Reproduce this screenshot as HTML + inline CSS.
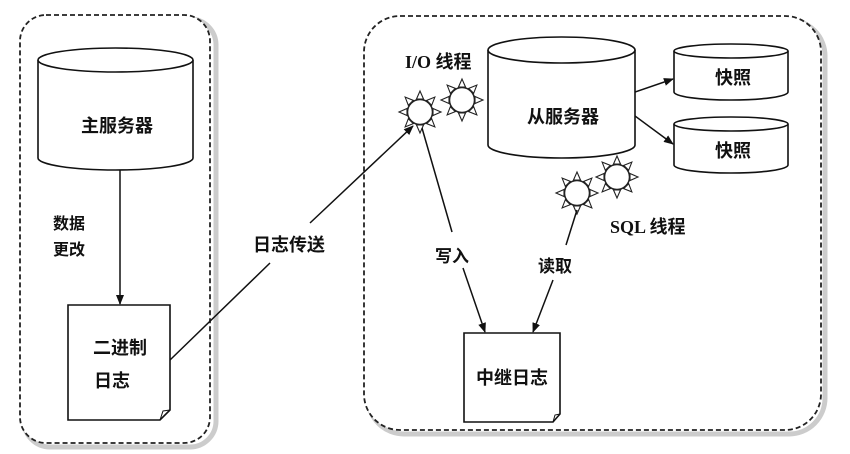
<!DOCTYPE html>
<html><head><meta charset="utf-8"><style>
body{margin:0;background:#fff;}
svg{display:block}
text{font-family:"Liberation Serif","Noto Sans CJK SC",sans-serif;font-weight:bold;fill:#111}
</style></head><body>
<svg width="850" height="454" viewBox="0 0 850 454" xmlns="http://www.w3.org/2000/svg">
<defs>
<marker id="ar" markerWidth="10" markerHeight="8" refX="9" refY="4" orient="auto" markerUnits="userSpaceOnUse">
<path d="M0,0 L10,4 L0,8 Z" fill="#111"/></marker>
<g id="gear">
<g fill="#fff" stroke="#222" stroke-width="1.1">
<path d="M-3.5,-13 L0,-21 L3.5,-13 Z"/><path d="M-3.5,-13 L0,-21 L3.5,-13 Z" transform="rotate(45)"/>
<path d="M-3.5,-13 L0,-21 L3.5,-13 Z" transform="rotate(90)"/><path d="M-3.5,-13 L0,-21 L3.5,-13 Z" transform="rotate(135)"/>
<path d="M-3.5,-13 L0,-21 L3.5,-13 Z" transform="rotate(180)"/><path d="M-3.5,-13 L0,-21 L3.5,-13 Z" transform="rotate(225)"/>
<path d="M-3.5,-13 L0,-21 L3.5,-13 Z" transform="rotate(270)"/><path d="M-3.5,-13 L0,-21 L3.5,-13 Z" transform="rotate(315)"/>
</g>
<circle r="12.5" fill="#fff" stroke="#222" stroke-width="1.5"/>
</g>
</defs>
<rect x="24" y="19" width="192" height="428" rx="26" fill="none" stroke="#ccc" stroke-width="5"/>
<rect x="368" y="20" width="457" height="414" rx="36" fill="none" stroke="#ccc" stroke-width="5"/>
<rect x="20" y="15" width="190" height="428" rx="26" fill="#fff" stroke="#222" stroke-width="1.8" stroke-dasharray="5,3"/>
<rect x="364" y="16" width="457" height="414" rx="36" fill="#fff" stroke="#222" stroke-width="1.8" stroke-dasharray="5,3"/>

<path d="M38,60 L38,158 A77.5,12 0 0 0 193,158 L193,60" fill="#fff" stroke="#111" stroke-width="1.6"/>
<ellipse cx="115.5" cy="60" rx="77.5" ry="12" fill="#fff" stroke="#111" stroke-width="1.6"/>
<text x="117" y="132" font-size="18" text-anchor="middle">主服务器</text>
<line x1="120" y1="170" x2="120" y2="304" stroke="#111" stroke-width="1.5" marker-end="url(#ar)"/>
<text x="53" y="229" font-size="16">数据</text>
<text x="53" y="255" font-size="16">更改</text>
<path d="M68,305 L170,305 L170,410 L160,420 L68,420 Z" fill="#fff" stroke="#111" stroke-width="1.6"/>
<path d="M170,410 L163,411 L160,420" fill="none" stroke="#111" stroke-width="1"/>
<text x="120" y="354" font-size="18" text-anchor="middle">二进制</text>
<text x="112" y="387" font-size="18" text-anchor="middle">日志</text>

<line x1="170" y1="360" x2="270" y2="263" stroke="#111" stroke-width="1.5"/>
<line x1="310" y1="223" x2="413" y2="126" stroke="#111" stroke-width="1.5" marker-end="url(#ar)"/>
<text x="289" y="251" font-size="18" text-anchor="middle">日志传送</text>

<path d="M488,50 L488,145 A73.5,13 0 0 0 635,145 L635,50" fill="#fff" stroke="#111" stroke-width="1.6"/>
<ellipse cx="561.5" cy="50" rx="73.5" ry="13" fill="#fff" stroke="#111" stroke-width="1.6"/>
<text x="563" y="123" font-size="18" text-anchor="middle">从服务器</text>

<path d="M674,51 L674,92 A57,8 0 0 0 788,92 L788,51" fill="#fff" stroke="#111" stroke-width="1.6"/>
<ellipse cx="731" cy="51" rx="57" ry="7" fill="#fff" stroke="#111" stroke-width="1.6"/>
<text x="733" y="84" font-size="18" text-anchor="middle">快照</text>
<path d="M674,124 L674,165 A57,8 0 0 0 788,165 L788,124" fill="#fff" stroke="#111" stroke-width="1.6"/>
<ellipse cx="731" cy="124" rx="57" ry="7" fill="#fff" stroke="#111" stroke-width="1.6"/>
<text x="733" y="157" font-size="18" text-anchor="middle">快照</text>
<line x1="635" y1="92" x2="673" y2="79" stroke="#111" stroke-width="1.5" marker-end="url(#ar)"/>
<line x1="635" y1="116" x2="673" y2="144" stroke="#111" stroke-width="1.5" marker-end="url(#ar)"/>

<use href="#gear" x="462" y="100"/>
<use href="#gear" x="420" y="112"/>
<use href="#gear" x="617" y="177"/>
<use href="#gear" x="577" y="193"/>
<text x="405" y="68" font-size="18">I/O 线程</text>
<text x="610" y="233" font-size="18">SQL 线程</text>

<line x1="422" y1="128" x2="452" y2="232" stroke="#111" stroke-width="1.5"/>
<line x1="463" y1="268" x2="485" y2="332" stroke="#111" stroke-width="1.5" marker-end="url(#ar)"/>
<text x="452" y="262" font-size="17" text-anchor="middle">写入</text>
<line x1="577" y1="210" x2="566" y2="245" stroke="#111" stroke-width="1.5"/>
<line x1="553" y1="280" x2="533" y2="332" stroke="#111" stroke-width="1.5" marker-end="url(#ar)"/>
<text x="555" y="272" font-size="17" text-anchor="middle">读取</text>
<path d="M464,333 L560,333 L560,414 L553,422 L464,422 Z" fill="#fff" stroke="#111" stroke-width="1.6"/>
<path d="M560,414 L555,415 L553,422" fill="none" stroke="#111" stroke-width="1"/>
<text x="512" y="384" font-size="18" text-anchor="middle">中继日志</text>
</svg>
</body></html>
